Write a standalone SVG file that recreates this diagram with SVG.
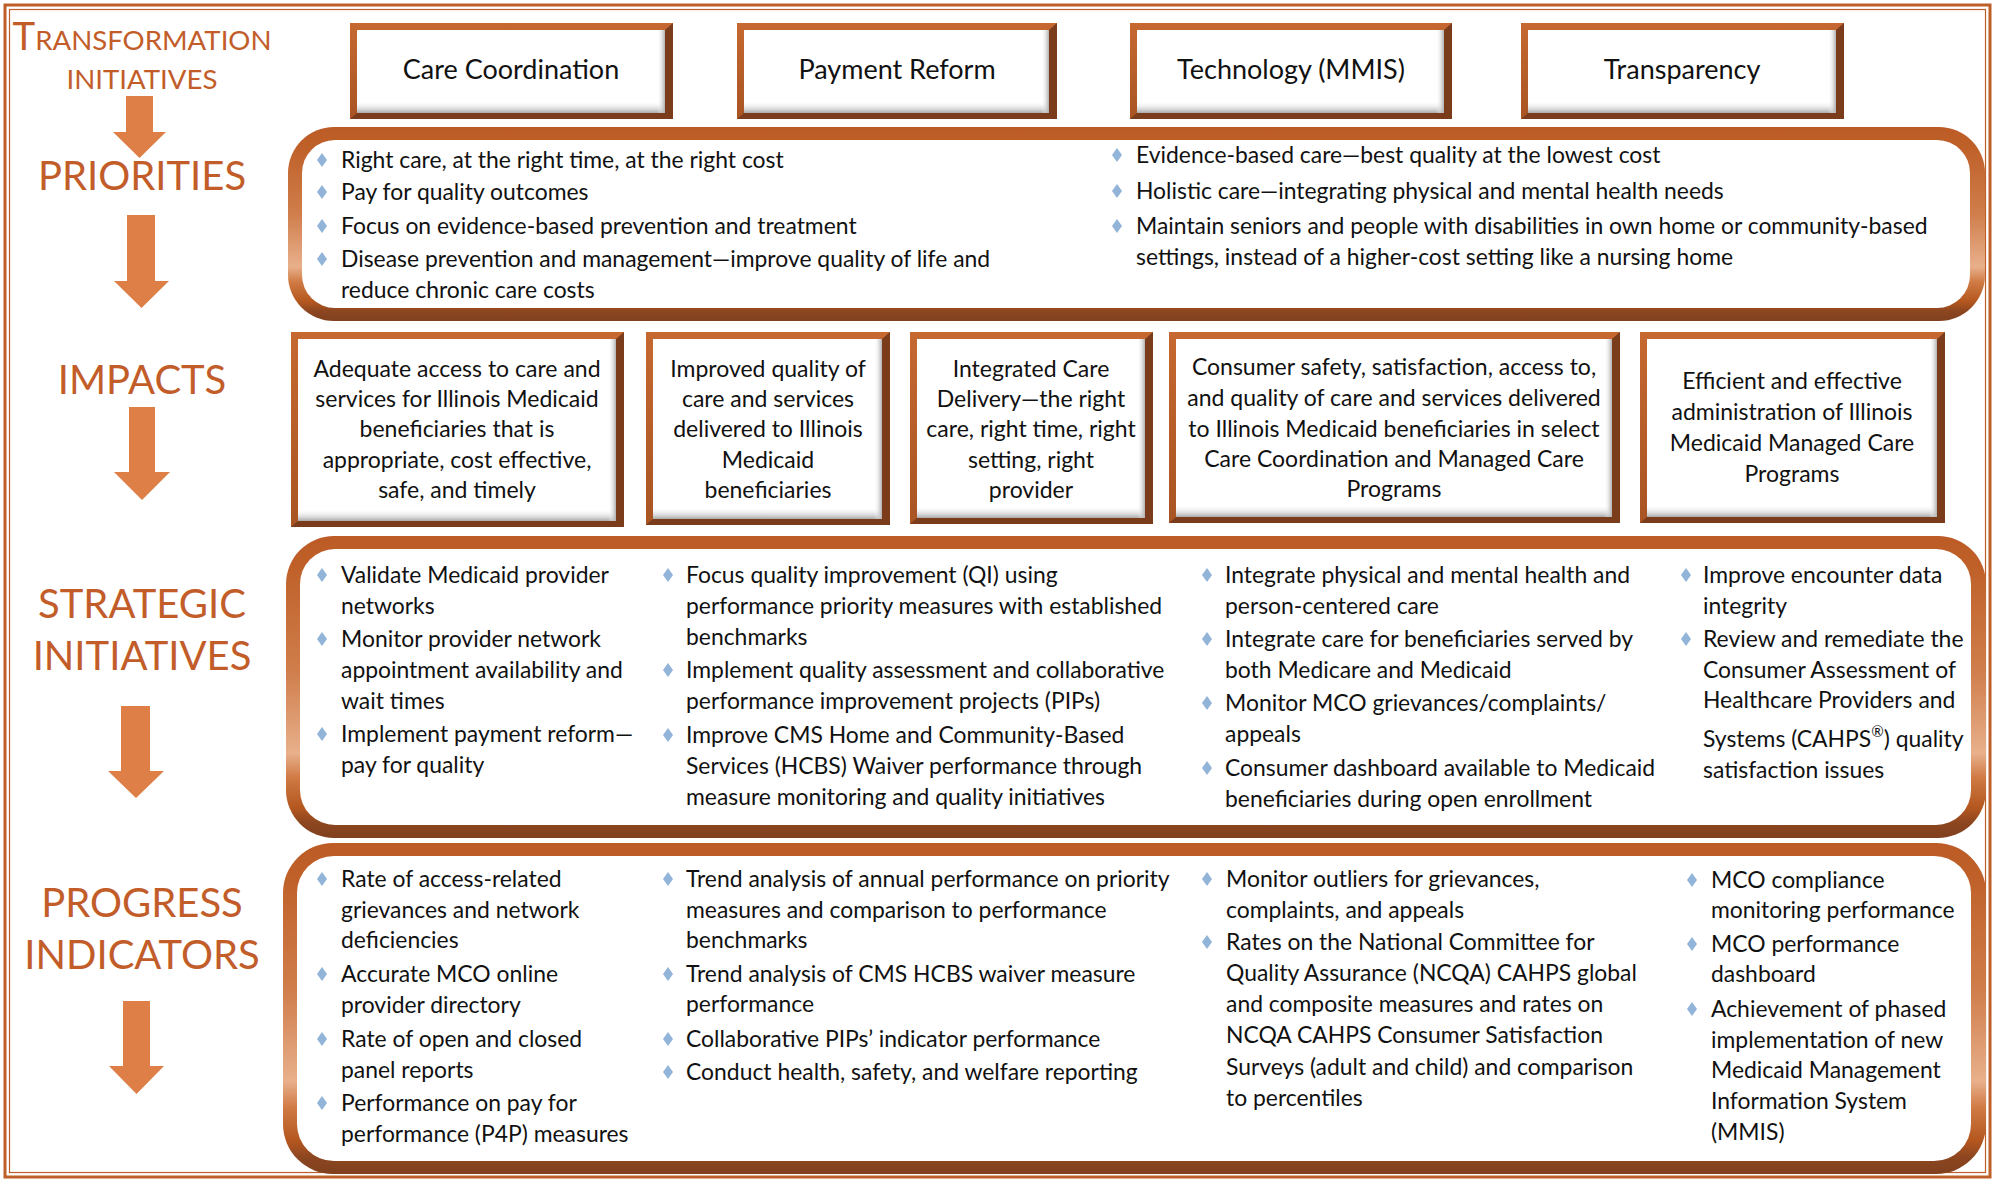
<svg xmlns="http://www.w3.org/2000/svg" xmlns:xlink="http://www.w3.org/1999/xlink" width="1995" height="1182" viewBox="0 0 1995 1182">
<style>
text{font-family:Lato,"Liberation Sans",sans-serif;}
.lbl{fill:#C25D2A;font-size:40px;text-anchor:middle;}
.sc{fill:#C25D2A;font-size:27.6px;text-anchor:middle;}
.hd{fill:#111;font-size:27px;text-anchor:middle;}
.bx{fill:#111;font-size:23px;text-anchor:middle;}
.tx{fill:#111;font-size:22.9px;}
.arrow{fill:#DE7F47;}
.dk{fill:#7A3C1A;}
.lt{fill:url(#bevel);}
.wh{fill:#fff;}
.shb{fill:url(#shB);}
.shr{fill:url(#shR);}
.pnl{fill:url(#panelGrad);}
.dia{fill:#92B4D8;}
</style>
<defs>
<linearGradient id="bevel" x1="0" y1="0" x2="0" y2="1"><stop offset="0" stop-color="#C66830"/><stop offset="1" stop-color="#A85423"/></linearGradient>
<linearGradient id="shB" x1="0" y1="0" x2="0" y2="1"><stop offset="0" stop-color="#fff" stop-opacity="0"/><stop offset="1" stop-color="#a9a9a9"/></linearGradient>
<linearGradient id="shR" x1="0" y1="0" x2="1" y2="0"><stop offset="0" stop-color="#fff" stop-opacity="0"/><stop offset="1" stop-color="#b0b0b0"/></linearGradient>
<linearGradient id="panelGrad" x1="0" y1="0" x2="0" y2="1">
<stop offset="0" stop-color="#BC5B25"/><stop offset="0.1" stop-color="#BF6029"/><stop offset="0.45" stop-color="#D07E4C"/><stop offset="0.72" stop-color="#E8B08B"/><stop offset="0.8" stop-color="#D07A44"/><stop offset="0.9" stop-color="#B4571F"/><stop offset="0.95" stop-color="#8C4620"/><stop offset="1" stop-color="#80401E"/>
</linearGradient>
<path id="d" class="dia" d="M0,-7 L5,0 L0,7 L-5,0Z"/>
</defs>
<rect x="0" y="0" width="1995" height="1182" fill="#fff"/>
<rect x="5" y="5" width="1985" height="1172" fill="none" stroke="#BE5E29" stroke-width="3"/>
<rect x="9.5" y="9.5" width="1976" height="1163" fill="none" stroke="#BE5E29" stroke-width="1.2"/>

<g id="label-transformation">
<text class="sc" x="142" y="50"><tspan font-size="38.5">T</tspan>RANSFORMATION</text>
<text class="sc" x="142" y="89">INITIATIVES</text>
</g>
<g id="label-priorities"><text class="lbl" x="142" y="190">PRIORITIES</text></g>
<g id="label-impacts"><text class="lbl" x="142" y="394">IMPACTS</text></g>
<g id="label-strategic"><text class="lbl" x="142" y="618">STRATEGIC</text><text class="lbl" x="142" y="670">INITIATIVES</text></g>
<g id="label-progress"><text class="lbl" x="142" y="917">PROGRESS</text><text class="lbl" x="142" y="969">INDICATORS</text></g>

<g id="connectors">
<polygon class="arrow" points="126,96 153,96 153,132 166,132 139.5,158 113,132 126,132"/>
<polygon class="arrow" points="127,215 155,215 155,281 169,281 141.5,308 114,281 127,281"/>
<polygon class="arrow" points="129,407 155,407 155,472 170,472 142,500 114,472 129,472"/>
<polygon class="arrow" points="121,706 150,706 150,771 164,771 136,798 108,771 121,771"/>
<polygon class="arrow" points="123,1001 150,1001 150,1066 164,1066 136.5,1094 109,1066 123,1066"/>
</g>

<!-- Transformation initiative boxes -->
<g id="box-care-coordination">
<rect class="dk" x="350" y="23" width="323" height="96"/>
<polygon class="lt" points="350,23 673,23 665,30 357,30 357,113 350,119"/>
<rect class="wh" x="357" y="30" width="308" height="83"/>
<rect class="shb" x="357" y="101" width="308" height="12"/>
<rect class="shr" x="657" y="30" width="8" height="83"/>
<text class="hd" x="511" y="79">Care Coordination</text>
</g>
<g id="box-payment-reform">
<rect class="dk" x="737" y="23" width="320" height="96"/>
<polygon class="lt" points="737,23 1057,23 1049,30 744,30 744,113 737,119"/>
<rect class="wh" x="744" y="30" width="305" height="83"/>
<rect class="shb" x="744" y="101" width="305" height="12"/>
<rect class="shr" x="1041" y="30" width="8" height="83"/>
<text class="hd" x="897" y="79">Payment Reform</text>
</g>
<g id="box-technology">
<rect class="dk" x="1130" y="23" width="322" height="96"/>
<polygon class="lt" points="1130,23 1452,23 1444,30 1137,30 1137,113 1130,119"/>
<rect class="wh" x="1137" y="30" width="307" height="83"/>
<rect class="shb" x="1137" y="101" width="307" height="12"/>
<rect class="shr" x="1436" y="30" width="8" height="83"/>
<text class="hd" x="1291" y="79">Technology (MMIS)</text>
</g>
<g id="box-transparency">
<rect class="dk" x="1521" y="23" width="323" height="96"/>
<polygon class="lt" points="1521,23 1844,23 1836,30 1528,30 1528,113 1521,119"/>
<rect class="wh" x="1528" y="30" width="308" height="83"/>
<rect class="shb" x="1528" y="101" width="308" height="12"/>
<rect class="shr" x="1828" y="30" width="8" height="83"/>
<text class="hd" x="1682" y="79">Transparency</text>
</g>

<!-- Priorities panel -->
<g id="panel-priorities">
<rect class="pnl" x="288" y="127" width="1697" height="194" rx="46"/>
<rect class="wh" x="302" y="140" width="1668" height="168" rx="33"/>
<use href="#d" x="322" y="160"/>
<text class="tx" x="341" y="168">Right care, at the right time, at the right cost</text>
<use href="#d" x="322" y="192"/>
<text class="tx" x="341" y="200">Pay for quality outcomes</text>
<use href="#d" x="322" y="226"/>
<text class="tx" x="341" y="234">Focus on evidence-based prevention and treatment</text>
<use href="#d" x="322" y="259"/>
<text class="tx" x="341" y="267">Disease prevention and management—improve quality of life and</text>
<text class="tx" x="341" y="298">reduce chronic care costs</text>
<use href="#d" x="1117" y="155"/>
<text class="tx" x="1136" y="163">Evidence-based care—best quality at the lowest cost</text>
<use href="#d" x="1117" y="191"/>
<text class="tx" x="1136" y="199">Holistic care—integrating physical and mental health needs</text>
<use href="#d" x="1117" y="226"/>
<text class="tx" x="1136" y="234">Maintain seniors and people with disabilities in own home or community-based</text>
<text class="tx" x="1136" y="265">settings, instead of a higher-cost setting like a nursing home</text>
</g>

<!-- Impact boxes -->
<g id="impact-access">
<rect class="dk" x="291" y="332" width="333" height="195"/>
<polygon class="lt" points="291,332 624,332 616,339 298,339 298,521 291,527"/>
<rect class="wh" x="298" y="339" width="318" height="182"/>
<rect class="shb" x="298" y="509" width="318" height="12"/>
<rect class="shr" x="608" y="339" width="8" height="182"/>
<text class="bx" x="457" y="377">Adequate access to care and</text>
<text class="bx" x="457" y="407">services for Illinois Medicaid</text>
<text class="bx" x="457" y="437">beneficiaries that is</text>
<text class="bx" x="457" y="468">appropriate, cost effective,</text>
<text class="bx" x="457" y="498">safe, and timely</text>
</g>
<g id="impact-quality">
<rect class="dk" x="646" y="332" width="244" height="193"/>
<polygon class="lt" points="646,332 890,332 882,339 653,339 653,519 646,525"/>
<rect class="wh" x="653" y="339" width="229" height="180"/>
<rect class="shb" x="653" y="507" width="229" height="12"/>
<rect class="shr" x="874" y="339" width="8" height="180"/>
<text class="bx" x="768" y="377">Improved quality of</text>
<text class="bx" x="768" y="407">care and services</text>
<text class="bx" x="768" y="437">delivered to Illinois</text>
<text class="bx" x="768" y="468">Medicaid</text>
<text class="bx" x="768" y="498">beneficiaries</text>
</g>
<g id="impact-integrated">
<rect class="dk" x="910" y="332" width="243" height="192"/>
<polygon class="lt" points="910,332 1153,332 1145,339 917,339 917,518 910,524"/>
<rect class="wh" x="917" y="339" width="228" height="179"/>
<rect class="shb" x="917" y="506" width="228" height="12"/>
<rect class="shr" x="1137" y="339" width="8" height="179"/>
<text class="bx" x="1031" y="377">Integrated Care</text>
<text class="bx" x="1031" y="407">Delivery—the right</text>
<text class="bx" x="1031" y="437">care, right time, right</text>
<text class="bx" x="1031" y="468">setting, right</text>
<text class="bx" x="1031" y="498">provider</text>
</g>
<g id="impact-consumer">
<rect class="dk" x="1169" y="332" width="451" height="191"/>
<polygon class="lt" points="1169,332 1620,332 1612,339 1176,339 1176,517 1169,523"/>
<rect class="wh" x="1176" y="339" width="436" height="178"/>
<rect class="shb" x="1176" y="505" width="436" height="12"/>
<rect class="shr" x="1604" y="339" width="8" height="178"/>
<text class="bx" x="1394" y="375">Consumer safety, satisfaction, access to,</text>
<text class="bx" x="1394" y="406">and quality of care and services delivered</text>
<text class="bx" x="1394" y="437">to Illinois Medicaid beneficiaries in select</text>
<text class="bx" x="1394" y="467">Care Coordination and Managed Care</text>
<text class="bx" x="1394" y="497">Programs</text>
</g>
<g id="impact-administration">
<rect class="dk" x="1640" y="332" width="305" height="191"/>
<polygon class="lt" points="1640,332 1945,332 1937,339 1647,339 1647,517 1640,523"/>
<rect class="wh" x="1647" y="339" width="290" height="178"/>
<rect class="shb" x="1647" y="505" width="290" height="12"/>
<rect class="shr" x="1929" y="339" width="8" height="178"/>
<text class="bx" x="1792" y="389">Efficient and effective</text>
<text class="bx" x="1792" y="420">administration of Illinois</text>
<text class="bx" x="1792" y="451">Medicaid Managed Care</text>
<text class="bx" x="1792" y="482">Programs</text>
</g>

<!-- Strategic initiatives panel -->
<g id="panel-strategic">
<rect class="pnl" x="286" y="536" width="1700" height="302" rx="48"/>
<rect class="wh" x="300" y="549" width="1671" height="276" rx="35"/>
<use href="#d" x="322" y="575"/>
<text class="tx" x="341" y="583">Validate Medicaid provider</text>
<text class="tx" x="341" y="614">networks</text>
<use href="#d" x="322" y="639"/>
<text class="tx" x="341" y="647">Monitor provider network</text>
<text class="tx" x="341" y="678">appointment availability and</text>
<text class="tx" x="341" y="709">wait times</text>
<use href="#d" x="322" y="734"/>
<text class="tx" x="341" y="742">Implement payment reform—</text>
<text class="tx" x="341" y="773">pay for quality</text>

<use href="#d" x="668" y="575"/>
<text class="tx" x="686" y="583">Focus quality improvement (QI) using</text>
<text class="tx" x="686" y="614">performance priority measures with established</text>
<text class="tx" x="686" y="645">benchmarks</text>
<use href="#d" x="668" y="670"/>
<text class="tx" x="686" y="678">Implement quality assessment and collaborative</text>
<text class="tx" x="686" y="709">performance improvement projects (PIPs)</text>
<use href="#d" x="668" y="735"/>
<text class="tx" x="686" y="743">Improve CMS Home and Community-Based</text>
<text class="tx" x="686" y="774">Services (HCBS) Waiver performance through</text>
<text class="tx" x="686" y="805">measure monitoring and quality initiatives</text>

<use href="#d" x="1207" y="575"/>
<text class="tx" x="1225" y="583">Integrate physical and mental health and</text>
<text class="tx" x="1225" y="614">person-centered care</text>
<use href="#d" x="1207" y="639"/>
<text class="tx" x="1225" y="647">Integrate care for beneficiaries served by</text>
<text class="tx" x="1225" y="678">both Medicare and Medicaid</text>
<use href="#d" x="1207" y="703"/>
<text class="tx" x="1225" y="711">Monitor MCO grievances/complaints/</text>
<text class="tx" x="1225" y="742">appeals</text>
<use href="#d" x="1207" y="768"/>
<text class="tx" x="1225" y="776">Consumer dashboard available to Medicaid</text>
<text class="tx" x="1225" y="807">beneficiaries during open enrollment</text>

<use href="#d" x="1686" y="575"/>
<text class="tx" x="1703" y="583">Improve encounter data</text>
<text class="tx" x="1703" y="614">integrity</text>
<use href="#d" x="1686" y="639"/>
<text class="tx" x="1703" y="647">Review and remediate the</text>
<text class="tx" x="1703" y="678">Consumer Assessment of</text>
<text class="tx" x="1703" y="708">Healthcare Providers and</text>
<text class="tx" x="1703" y="747">Systems (CAHPS<tspan font-size="15" dy="-10">®</tspan><tspan dy="10">) quality</tspan></text>
<text class="tx" x="1703" y="778">satisfaction issues</text>
</g>

<!-- Progress indicators panel -->
<g id="panel-progress">
<rect class="pnl" x="283" y="843" width="1703" height="331" rx="50"/>
<rect class="wh" x="297" y="856" width="1674" height="305" rx="37"/>
<use href="#d" x="322" y="879"/>
<text class="tx" x="341" y="887">Rate of access-related</text>
<text class="tx" x="341" y="918">grievances and network</text>
<text class="tx" x="341" y="948">deficiencies</text>
<use href="#d" x="322" y="974"/>
<text class="tx" x="341" y="982">Accurate MCO online</text>
<text class="tx" x="341" y="1013">provider directory</text>
<use href="#d" x="322" y="1039"/>
<text class="tx" x="341" y="1047">Rate of open and closed</text>
<text class="tx" x="341" y="1078">panel reports</text>
<use href="#d" x="322" y="1103"/>
<text class="tx" x="341" y="1111">Performance on pay for</text>
<text class="tx" x="341" y="1142">performance (P4P) measures</text>

<use href="#d" x="668" y="879"/>
<text class="tx" x="686" y="887">Trend analysis of annual performance on priority</text>
<text class="tx" x="686" y="918">measures and comparison to performance</text>
<text class="tx" x="686" y="948">benchmarks</text>
<use href="#d" x="668" y="974"/>
<text class="tx" x="686" y="982">Trend analysis of CMS HCBS waiver measure</text>
<text class="tx" x="686" y="1012">performance</text>
<use href="#d" x="668" y="1039"/>
<text class="tx" x="686" y="1047">Collaborative PIPs’ indicator performance</text>
<use href="#d" x="668" y="1072"/>
<text class="tx" x="686" y="1080">Conduct health, safety, and welfare reporting</text>

<use href="#d" x="1207" y="879"/>
<text class="tx" x="1226" y="887">Monitor outliers for grievances,</text>
<text class="tx" x="1226" y="918">complaints, and appeals</text>
<use href="#d" x="1207" y="942"/>
<text class="tx" x="1226" y="950">Rates on the National Committee for</text>
<text class="tx" x="1226" y="981">Quality Assurance (NCQA) CAHPS global</text>
<text class="tx" x="1226" y="1012">and composite measures and rates on</text>
<text class="tx" x="1226" y="1043">NCQA CAHPS Consumer Satisfaction</text>
<text class="tx" x="1226" y="1075">Surveys (adult and child) and comparison</text>
<text class="tx" x="1226" y="1106">to percentiles</text>

<use href="#d" x="1692" y="880"/>
<text class="tx" x="1711" y="888">MCO compliance</text>
<text class="tx" x="1711" y="918">monitoring performance</text>
<use href="#d" x="1692" y="944"/>
<text class="tx" x="1711" y="952">MCO performance</text>
<text class="tx" x="1711" y="982">dashboard</text>
<use href="#d" x="1692" y="1009"/>
<text class="tx" x="1711" y="1017">Achievement of phased</text>
<text class="tx" x="1711" y="1048">implementation of new</text>
<text class="tx" x="1711" y="1078">Medicaid Management</text>
<text class="tx" x="1711" y="1109">Information System</text>
<text class="tx" x="1711" y="1140">(MMIS)</text>
</g>
</svg>
